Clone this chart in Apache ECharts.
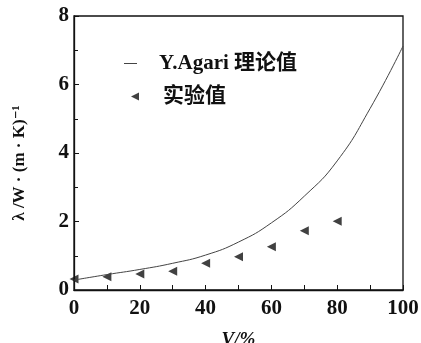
<!DOCTYPE html>
<html><head><meta charset="utf-8">
<script src="https://cdn.jsdelivr.net/npm/echarts@6/dist/echarts.min.js"></script>
<style>html,body{margin:0;padding:0;background:#fff}#c{width:421px;height:343px}</style>
</head><body><div id="c"></div>
<script>
const xTheory = [0, 10, 20, 30, 40, 50, 60, 70, 80, 90, 100];
const yTheory = [0.29, 0.45, 0.60, 0.78, 1.02, 1.40, 1.96, 2.74, 3.77, 5.30, 7.12];
const xExp = [0, 10, 20, 30, 40, 50, 60, 70, 80];
const yExp = [0.32, 0.39, 0.47, 0.55, 0.78, 0.97, 1.26, 1.73, 2.01];
const xTicks = [0, 20, 40, 60, 80, 100];
const yTicks = [0, 2, 4, 6, 8];
const seriesNames = ['Y.Agari 理论值', '实验值'];

const serif = '"Liberation Serif", "DejaVu Serif", "Noto Sans CJK SC", serif';
const legendText = {fontFamily: serif, fontWeight: 'bold', fontSize: 21, color: '#111'};
const chart = echarts.init(document.getElementById('c'), null, {renderer: 'canvas'});
chart.setOption({
  animation: false,
  backgroundColor: '#fff',
  grid: {left: 74, right: 18, top: 16, bottom: 53, show: true, borderColor: '#111', borderWidth: 1.3,
         outerBoundsMode: 'none', containLabel: false},
  legend: [
    {
      left: 124, top: 53, padding: 0, itemWidth: 13, itemHeight: 10,
      textStyle: Object.assign({padding: [0, 0, 0, 17]}, legendText),
      data: [{name: seriesNames[0], icon: 'path://M0,4.6 L10,4.6 L10,5.4 L0,5.4 Z'}]
    },
    {
      left: 131, top: 86, padding: 0, itemWidth: 8, itemHeight: 8,
      textStyle: Object.assign({padding: [0, 0, 0, 19]}, legendText),
      data: [{name: seriesNames[1], icon: 'path://M0,5 L10,0 L10,10 Z', itemStyle: {color: '#111'}}]
    }
  ],
  xAxis: {
    type: 'value', min: xTicks[0], max: xTicks[xTicks.length - 1], interval: 20,
    name: 'V/%', nameLocation: 'middle', nameGap: 41,
    nameTextStyle: {fontFamily: serif, fontWeight: 'bold', fontStyle: 'italic', fontSize: 19, color: '#111'},
    axisLine: {lineStyle: {color: '#111', width: 1.3}},
    axisTick: {inside: true, length: 5, lineStyle: {color: '#111'}},
    minorTick: {show: true, splitNumber: 2, length: 5, lineStyle: {color: '#111'}},
    axisLabel: {fontFamily: serif, fontWeight: 'bold', fontSize: 21, color: '#111', margin: 8},
    splitLine: {show: false}
  },
  yAxis: {
    type: 'value', min: yTicks[0], max: yTicks[yTicks.length - 1], interval: 2,
    name: 'λ /W · (m · K)⁻¹', nameLocation: 'middle', nameGap: 46, nameRotate: 90,
    nameTextStyle: {fontFamily: serif, fontWeight: 'bold', fontSize: 17, color: '#111', padding: [0, 20, 0, 0]},
    axisLine: {lineStyle: {color: '#111', width: 1.3}},
    axisTick: {inside: true, length: 5, lineStyle: {color: '#111'}},
    minorTick: {show: true, splitNumber: 2, length: 4, lineStyle: {color: '#111'}},
    axisLabel: {fontFamily: serif, fontWeight: 'bold', fontSize: 21, color: '#111', margin: 5},
    splitLine: {show: false}
  },
  series: [
    {
      name: seriesNames[0], type: 'line', smooth: 0.5, showSymbol: false, symbol: 'none',
      lineStyle: {color: '#444', width: 1},
      itemStyle: {color: '#444'},
      data: xTheory.map((x, i) => [x, yTheory[i]])
    },
    {
      name: seriesNames[1], type: 'scatter', symbol: 'path://M0,5 L10,0 L10,10 Z', symbolSize: 9,
      itemStyle: {color: '#111'},
      data: xExp.map((x, i) => [x, yExp[i]])
    }
  ]
});
</script></body></html>
